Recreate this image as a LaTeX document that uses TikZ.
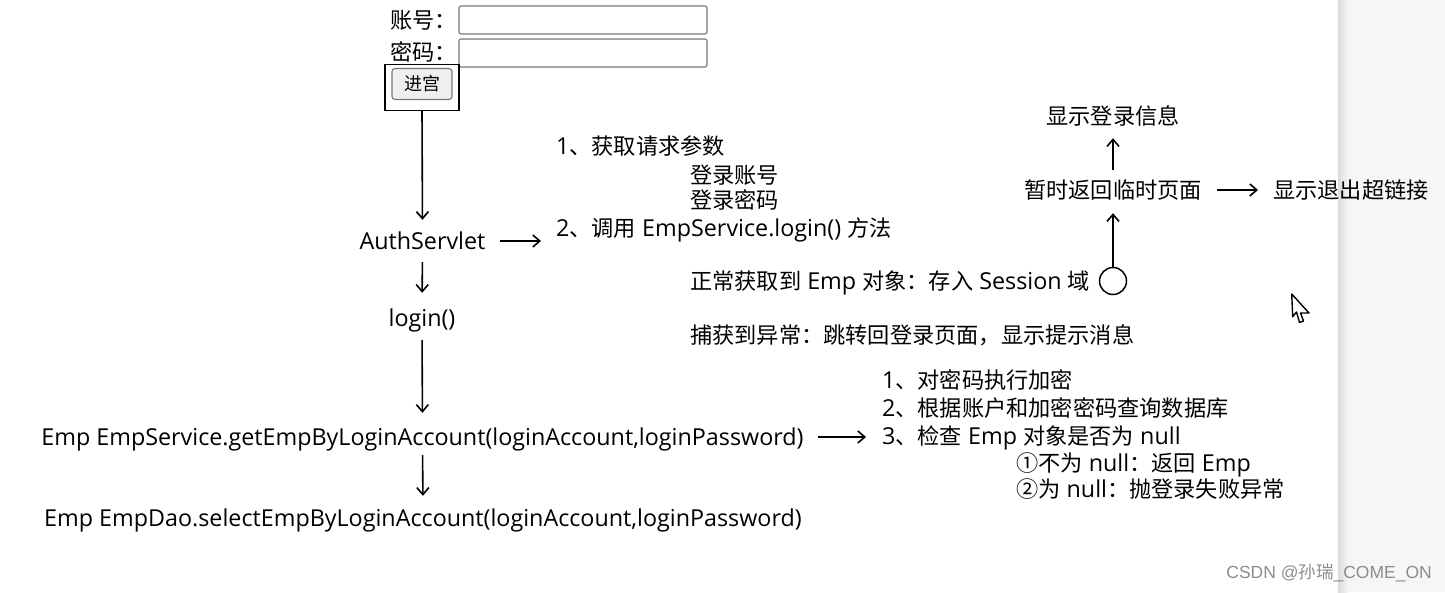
\documentclass[tikz,border=0pt]{standalone}
\usepackage{fontspec}
\setmainfont{Open Sans}[Scale=1.05]
\newfontfamily\cjk{Noto Sans CJK SC}
\newfontfamily\wmfont{Liberation Sans}
\usetikzlibrary{arrows.meta}
\newcommand\zh[1]{{\cjk #1}}
\definecolor{boxgray}{HTML}{767676}
\definecolor{btnfill}{HTML}{EFEFEF}
\definecolor{panel}{HTML}{F7F6F4}
\definecolor{wm}{HTML}{8C8C8C}
\tikzset{
  lbl/.style={inner sep=0pt, font=\fontsize{22.2}{26}\selectfont, text height=19pt, text depth=3pt},
  arr/.style={-{Straight Barb[length=7pt,width=12pt]}, line width=1.6pt},
  inbox/.style={draw=boxgray, line width=1.1pt, rounded corners=2pt, minimum width=248pt, minimum height=28pt, inner sep=0pt},
}
\begin{document}
\begin{tikzpicture}[x=1pt,y=-1pt]
\useasboundingbox (0,0) rectangle (1445,592);
% right panel
\fill[panel] (1340,0) rectangle (1445,592);
\shade[left color=black!14, right color=panel] (1338,0) rectangle (1348,592);

% login form
\node[lbl, anchor=west] (uname) at (390,20) {\zh{账号：}};
\node[lbl, anchor=west] (pwd) at (390,52) {\zh{密码：}};
\node[inbox] (in1) at (583,20) {};
\node[inbox] (in2) at (583,53) {};
\node[draw=black, line width=1.3pt, minimum width=74pt, minimum height=46pt, inner sep=0pt] (box) at (422,87.5) {};
\node[draw=boxgray, fill=btnfill, line width=1.1pt, rounded corners=3pt, minimum width=60pt, minimum height=31pt, inner sep=0pt, font=\fontsize{18}{20}\selectfont] (btn) at (422,84) {\zh{进宫}};

% main column
\node[lbl] (auth) at (422.5,241) {AuthServlet};
\node[lbl] (login) at (422,318) {login()};
\node[lbl] (emps) at (422.5,437) {Emp EmpService.getEmpByLoginAccount(loginAccount,loginPassword)};
\node[lbl] (dao) at (423,518) {Emp EmpDao.selectEmpByLoginAccount(loginAccount,loginPassword)};

% servlet notes
\node[lbl, anchor=west] (s1) at (556,146) {1\zh{、获取请求参数}};
\node[lbl, anchor=west] (s1a) at (690,175) {\zh{登录账号}};
\node[lbl, anchor=west] (s1b) at (690,200) {\zh{登录密码}};
\node[lbl, anchor=west] (s2) at (556,228) {2\zh{、调用} EmpService.login() \zh{方法}};
\node[lbl, anchor=west] (ok) at (690,281) {\zh{正常获取到} Emp \zh{对象：存入} Session \zh{域}};
\node[lbl, anchor=west] (err) at (690,335) {\zh{捕获到异常：跳转回登录页面，显示提示消息}};
\node[draw=black, line width=1.5pt, circle, minimum size=27pt, inner sep=0pt] (dot) at (1113,281) {};
\node[lbl] (tmp) at (1113,190) {\zh{暂时返回临时页面}};
\node[lbl] (show) at (1113,116) {\zh{显示登录信息}};
\node[lbl, anchor=west] (exit) at (1273,190) {\zh{显示退出超链接}};

% service notes
\node[lbl, anchor=west] (t1) at (882,380) {1\zh{、对密码执行加密}};
\node[lbl, anchor=west] (t2) at (882,408) {2\zh{、根据账户和加密密码查询数据库}};
\node[lbl, anchor=west] (t3) at (882,436) {3\zh{、检查} Emp \zh{对象是否为} null};
\node[lbl, anchor=west] (t3a) at (1016,463) {\zh{①不为} null\zh{：返回} Emp};
\node[lbl, anchor=west] (t3b) at (1016,489) {\zh{②为} null\zh{：抛登录失败异常}};

% connectors
\draw[arr, shorten >=10pt] (box.south) -- (auth.north);
\draw[arr, shorten <=10pt, shorten >=14pt] (auth.south) -- (login.north);
\draw[arr, shorten <=11pt, shorten >=13pt] (login.south) -- (emps.north);
\draw[arr, shorten <=7pt, shorten >=11pt] (emps.south) -- (dao.north);
\draw[arr, shorten >=12pt] (dot.north) -- (tmp.south);
\draw[arr, shorten <=9pt, shorten >=11pt] (tmp.north) -- (show.south);
\draw[arr, shorten <=14pt, shorten >=15pt] (auth.east) -- (auth.east -| s2.west);
\draw[arr, shorten <=14pt, shorten >=16pt] (emps.east) -- (emps.east -| t3.west);
\draw[arr, shorten <=15pt, shorten >=15pt] (tmp.east) -- (exit.west);

% mouse cursor
\draw[line width=1.4pt, fill=white, line join=round] (1291.7,294) -- (1292.7,316.7) -- (1296.5,312) -- (1299.5,322.5) -- (1303.5,321) -- (1300.5,313) -- (1309,313) -- cycle;

% watermark
\node[inner sep=0pt, anchor=east, text=wm, font=\wmfont\fontsize{17.5}{19}\selectfont] (wmark) at (1432,573) {CSDN @\zh{孙瑞}\_COME\_ON};
\end{tikzpicture}
\end{document}
